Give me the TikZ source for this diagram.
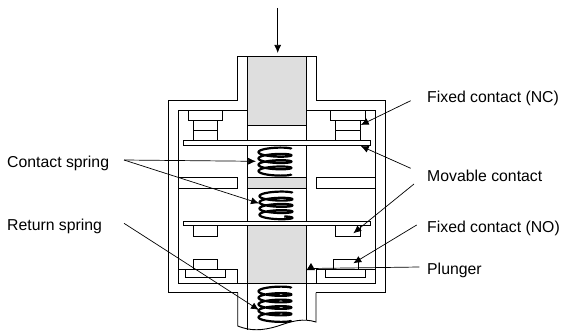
\documentclass[tikz,border=0pt]{standalone}
\usepackage{fontspec}
\setmainfont{Liberation Sans}
\usetikzlibrary{arrows.meta}
\tikzset{
  part/.style={draw=black,line width=0.9pt,fill=white},
  grey/.style={draw=black,line width=0.9pt,fill=black!13},
  wall/.style={draw=black,line width=0.9pt},
  lead/.style={draw=black,line width=0.7pt,-{Latex[length=8pt,width=7pt]}},
  lbl/.style={anchor=base west,inner sep=0pt,font=\fontsize{15.8}{18}\selectfont},
  coil/.style={draw=black,line width=2.2pt,line join=round}
}
\newcommand{\coilspring}[5]{% cx, top y, end angle, pitch, half width
  \draw[coil,domain=0:#3,samples=160,variable=\t,smooth]
    plot ({#1+#5*cos(\t)},{#2+#4*\t/360+2.8*sin(\t+180)});
}
\begin{document}
\begin{tikzpicture}[x=1pt,y=-1pt]
\useasboundingbox (0,0) rectangle (561,331);
% housing
\draw[wall] (237.7,292.7) -- (168.5,292.7) -- (168.5,100.5) -- (237.7,100.5) -- (237.7,56.7) -- (316,56.7) -- (316,100.5) -- (385.3,100.5) -- (385.3,292.7) -- (316,292.7);
\draw[wall] (237.7,292.7) -- (237.7,326) .. controls (250,331) and (262,331) .. (278,326) .. controls (292,321) and (303,318) .. (316,322) -- (316,292.7);
\draw[wall] (247.3,110.7) -- (178.3,110.7) -- (178.3,283) -- (375.3,283) -- (375.3,110.7) -- (306.3,110.7);
% plunger
\draw[wall] (247.3,56.7) -- (247.3,329.5);
\draw[wall] (306.3,56.7) -- (306.3,319.5);
\draw[grey] (247.3,56.7) rectangle (306.3,125.7);
\draw[grey] (247.3,177.7) rectangle (306.3,188.3);
% stops
\draw[part] (178.3,177.7) rectangle (237.3,188.3);
\draw[part] (316,177.7) rectangle (375.3,188.3);
% upper fixed contacts
\draw[part] (193,120.7) rectangle (217.7,140.3);
\draw[part] (193,130.3) -- (217.7,130.3);
\draw[part] (188.3,110.7) rectangle (222.7,120.7);
\draw[part] (335.7,120.7) rectangle (360.3,140.3);
\draw[part] (335.7,130.3) -- (360.3,130.3);
\draw[part] (330.7,110.7) rectangle (365.3,120.7);
% movable contacts
\draw[part] (183.3,140.3) rectangle (370.7,145.3);
\draw[part] (183.3,221) rectangle (370.7,225.7);
\draw[grey] (247.3,225.7) rectangle (306.3,283);
% lower contacts
\draw[part] (193,225.7) rectangle (217.7,236);
\draw[part] (335.7,225.7) rectangle (360.3,236);
\draw[part] (193,259.3) rectangle (217.7,269.3);
\draw[part] (333.3,259.3) rectangle (358,269.3);
\draw[part] (178.3,269.3) rectangle (237.3,283);
\draw[part] (316,269.3) rectangle (375.3,283);
\draw[part] (185.7,269.3) rectangle (225.7,277.3);
\draw[part] (325.7,269.3) rectangle (365.7,277.3);
% springs
\coilspring{275}{149}{1440}{6.3}{16.5}
\coilspring{276}{193}{1500}{6.2}{16.5}
\coilspring{275}{288}{1800}{6.5}{16.5}
% top arrow
\coordinate (push) at (277.7,8);
\coordinate (pushend) at (277.7,53);
\draw[lead] (push) -- (pushend);
% labels
\node[lbl] (nc) at (427,102.7) {Fixed contact (NC)};
\node[lbl] (mc) at (427,181.7) {Movable contact};
\node[lbl] (no) at (427,232.7) {Fixed contact (NO)};
\node[lbl] (pg) at (427,274) {Plunger};
\node[lbl] (cs) at (7,167.3) {Contact spring};
\node[lbl] (rs) at (7,230.7) {Return spring};
% leader start / end points
\coordinate (ncS) at (410.7,100.7); \coordinate (ncE) at (360.7,125);
\coordinate (mcS) at (410.7,168.3); \coordinate (mcE) at (360.7,146);
\coordinate (mdS) at (414,184);     \coordinate (mdE) at (353.3,233.3);
\coordinate (noS) at (416.7,225);   \coordinate (noE) at (353.3,263.3);
\coordinate (pgS) at (419.3,267);   \coordinate (pgE) at (311,268.5);
\coordinate (csS) at (124,160);     \coordinate (csA) at (256,161.3); \coordinate (csB) at (259,203.3);
\coordinate (rsS) at (124,223.3);   \coordinate (rsE) at (259,310);
\draw[lead] (ncS) -- (ncE);
\draw[lead] (mcS) -- (mcE);
\draw[lead] (mdS) -- (mdE);
\draw[lead] (noS) -- (noE);
\draw[wall,line width=0.7pt] (pgS) -- (pgE);
\fill[black] (306.7,270) -- (315,270) -- (311,263) -- cycle;
\draw[lead] (csS) -- (csA);
\draw[lead] (csS) -- (csB);
\draw[lead] (rsS) -- (rsE);
\end{tikzpicture}
\end{document}
